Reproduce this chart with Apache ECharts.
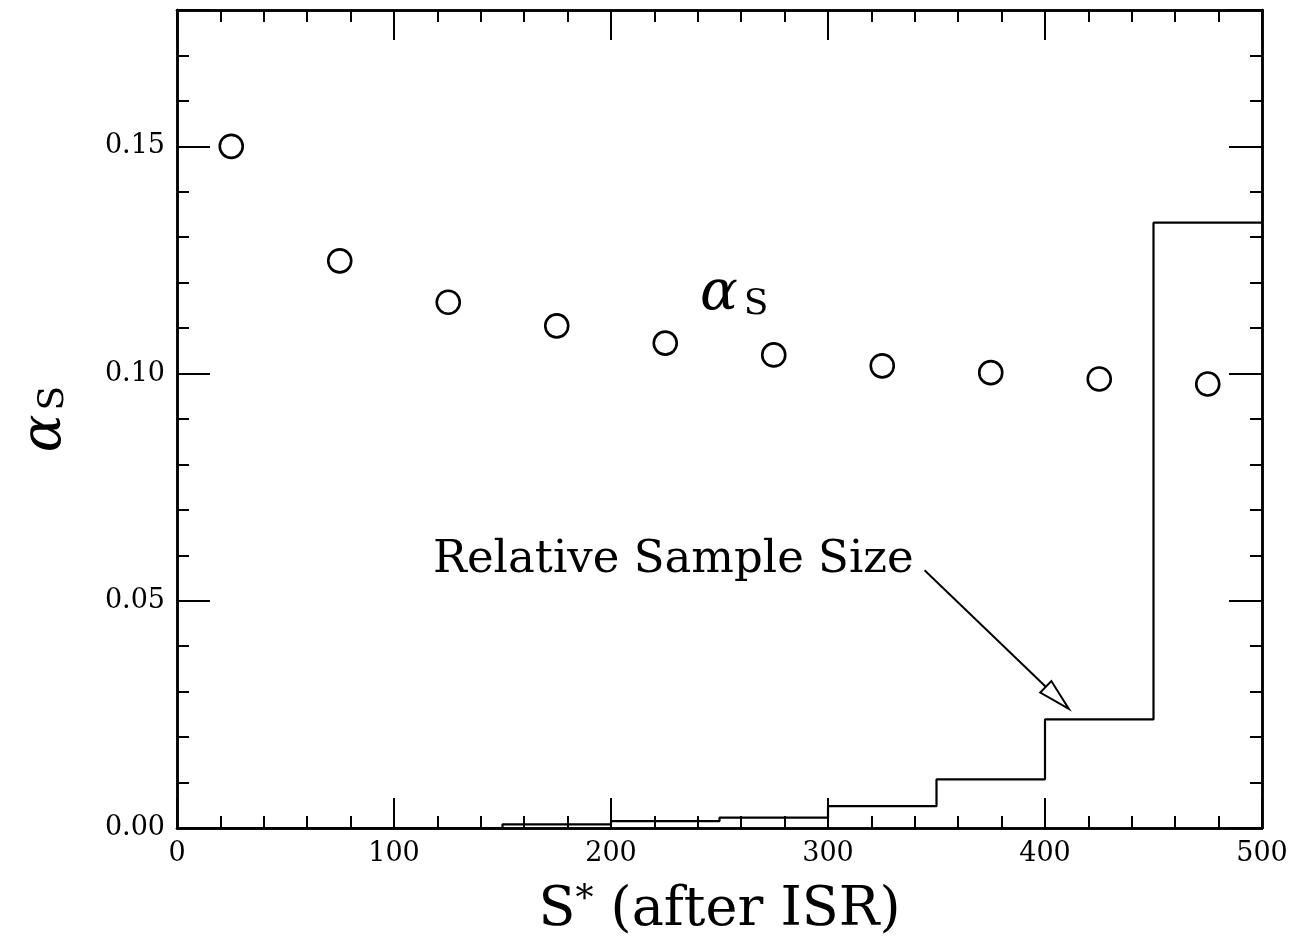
<!DOCTYPE html>
<html><head><meta charset="utf-8">
<script src="https://cdn.jsdelivr.net/npm/echarts@6/dist/echarts.min.js"></script>
<style>html,body{margin:0;padding:0;background:#fff;overflow:hidden}#c{width:1299px;height:945px}</style>
</head><body><div id="c"></div>
<script>
// ---- data ----
const binEdges   = [0, 50, 100, 150, 200, 250, 300, 350, 400, 450, 500];
const sampleSize = [0, 0, 0, 0.0008, 0.0015, 0.0023, 0.0048, 0.0107, 0.0239, 0.1332];
const binCenters = [25, 75, 125, 175, 225, 275, 325, 375, 425, 475];
const alphaS     = [0.150, 0.1248, 0.1157, 0.1105, 0.1067, 0.1041, 0.1017, 0.1002, 0.0988, 0.0977];
const xTickLabels = ['0', '100', '200', '300', '400', '500'];
const yTickLabels = ['0.00', '0.05', '0.10', '0.15'];

// annotation anchors (data coordinates)
const noteText   = 'Relative Sample Size';
const notePos    = [118, 0.0589];
const arrowFrom  = [344.5, 0.0567];
const arrowTo    = [411, 0.0262];
const alphaPos   = [241, 0.1175];

const SERIF = '"DejaVu Serif", "Liberation Serif", serif';
const X_MIN = 0, X_MAX = 500, Y_MIN = 0, Y_MAX = 0.18;

const chart = echarts.init(document.getElementById('c'), null, {renderer: 'canvas'});

function xAx(pos, interval, tickLen, labels, extra) {
  return Object.assign({
    type: 'value', position: pos, min: X_MIN, max: X_MAX, interval: interval,
    axisLine: {show: true, onZero: false, lineStyle: {color: '#000', width: 2.5}},
    axisTick: {show: true, inside: true, length: tickLen, lineStyle: {color: '#000', width: 2}},
    axisLabel: labels ? {show: true, margin: 12, fontFamily: SERIF, fontSize: 27, color: '#000',
      formatter: v => { const i = xTickLabels.indexOf(String(Math.round(v))); return i >= 0 ? xTickLabels[i] : ''; }} : {show: false},
    splitLine: {show: false}
  }, extra || {});
}
function yAx(pos, interval, tickLen, labels, extra) {
  return Object.assign({
    type: 'value', position: pos, min: Y_MIN, max: Y_MAX, interval: interval,
    axisLine: {show: true, onZero: false, lineStyle: {color: '#000', width: 2.5}},
    axisTick: {show: true, inside: true, length: tickLen, lineStyle: {color: '#000', width: 2}},
    axisLabel: labels ? {show: true, margin: 12, fontFamily: SERIF, fontSize: 27, color: '#000',
      formatter: v => { const s = v.toFixed(2); return yTickLabels.indexOf(s) >= 0 ? s : ''; }} : {show: false},
    splitLine: {show: false}
  }, extra || {});
}

const stepData = binEdges.map((e, i) => [e, sampleSize[Math.min(i, sampleSize.length - 1)]]);
const pointData = binCenters.map((c, i) => [c, alphaS[i]]);

chart.setOption({
  animation: false,
  backgroundColor: '#fff',
  grid: {left: 177, right: 37, top: 10, bottom: 117, containLabel: false, outerBoundsMode: 'none'},
  xAxis: [
    xAx('bottom', 100, 30, true, {
      name: '{n|S}{sup|*}{n| (after ISR)}', nameLocation: 'middle', nameGap: 55, nameMoveOverlap: false,
      nameTextStyle: {rich: {
        n: {fontFamily: SERIF, fontSize: 54, color: '#000'},
        sup: {fontFamily: SERIF, fontSize: 36, color: '#000', verticalAlign: 'top', padding: [0, 0, 20, 0]}
      }}
    }),
    xAx('bottom', 20, 12, false),
    xAx('top', 100, 30, false),
    xAx('top', 20, 12, false)
  ],
  yAxis: [
    yAx('left', 0.05, 33, true, {
      name: '{a|α}{s|S}', nameLocation: 'middle', nameGap: 104, nameRotate: 90, nameMoveOverlap: false,
      nameTextStyle: {rich: {
        a: {fontFamily: SERIF, fontSize: 56, fontStyle: 'italic', color: '#000'},
        s: {fontFamily: SERIF, fontSize: 36, color: '#000', padding: [18, 0, 0, 4]}
      }}
    }),
    yAx('left', 0.01, 12, false),
    yAx('right', 0.05, 33, false),
    yAx('right', 0.01, 12, false)
  ],
  series: [
    {
      type: 'line', name: 'Relative Sample Size', xAxisIndex: 0, yAxisIndex: 0,
      step: 'end', data: stepData, showSymbol: false, symbol: 'none',
      lineStyle: {color: '#000', width: 2.2}, z: 3
    },
    {
      type: 'scatter', name: 'alpha_s', xAxisIndex: 0, yAxisIndex: 0,
      data: pointData, symbol: 'circle', symbolSize: 23,
      itemStyle: {color: '#fff', borderColor: '#000', borderWidth: 2.6, opacity: 1}, z: 4
    }
  ]
});

function px(p) { return chart.convertToPixel({xAxisIndex: 0, yAxisIndex: 0}, p); }
const a0 = px(arrowFrom), a1 = px(arrowTo);
const dx = a1[0] - a0[0], dy = a1[1] - a0[1], L = Math.hypot(dx, dy);
const ux = dx / L, uy = dy / L, nx = -uy, ny = ux;
const headL = 32, headW = 8;
const bx = a1[0] - ux * headL, by = a1[1] - uy * headL;
const np = px(notePos), ap = px(alphaPos);

chart.setOption({
  graphic: [
    {type: 'line', z: 10, shape: {x1: a0[0], y1: a0[1], x2: bx, y2: by}, style: {stroke: '#000', lineWidth: 2}},
    {type: 'polygon', z: 10, shape: {points: [[a1[0], a1[1]], [bx + nx * headW, by + ny * headW], [bx - nx * headW, by - ny * headW]]},
      style: {fill: '#fff', stroke: '#000', lineWidth: 2}},
    {type: 'text', z: 10, x: np[0], y: np[1],
      style: {text: noteText, font: '45px ' + SERIF, fill: '#000', textAlign: 'left', textVerticalAlign: 'middle'}},
    {type: 'text', z: 10, x: ap[0], y: ap[1],
      style: {text: '{a|α}{s|S}', textAlign: 'left', textVerticalAlign: 'middle',
        rich: {a: {fontFamily: SERIF, fontSize: 56, fontStyle: 'italic', fill: '#000', color: '#000'},
               s: {fontFamily: SERIF, fontSize: 36, fill: '#000', color: '#000', padding: [22, 0, 0, 6]}}}}
  ]
});
</script></body></html>
